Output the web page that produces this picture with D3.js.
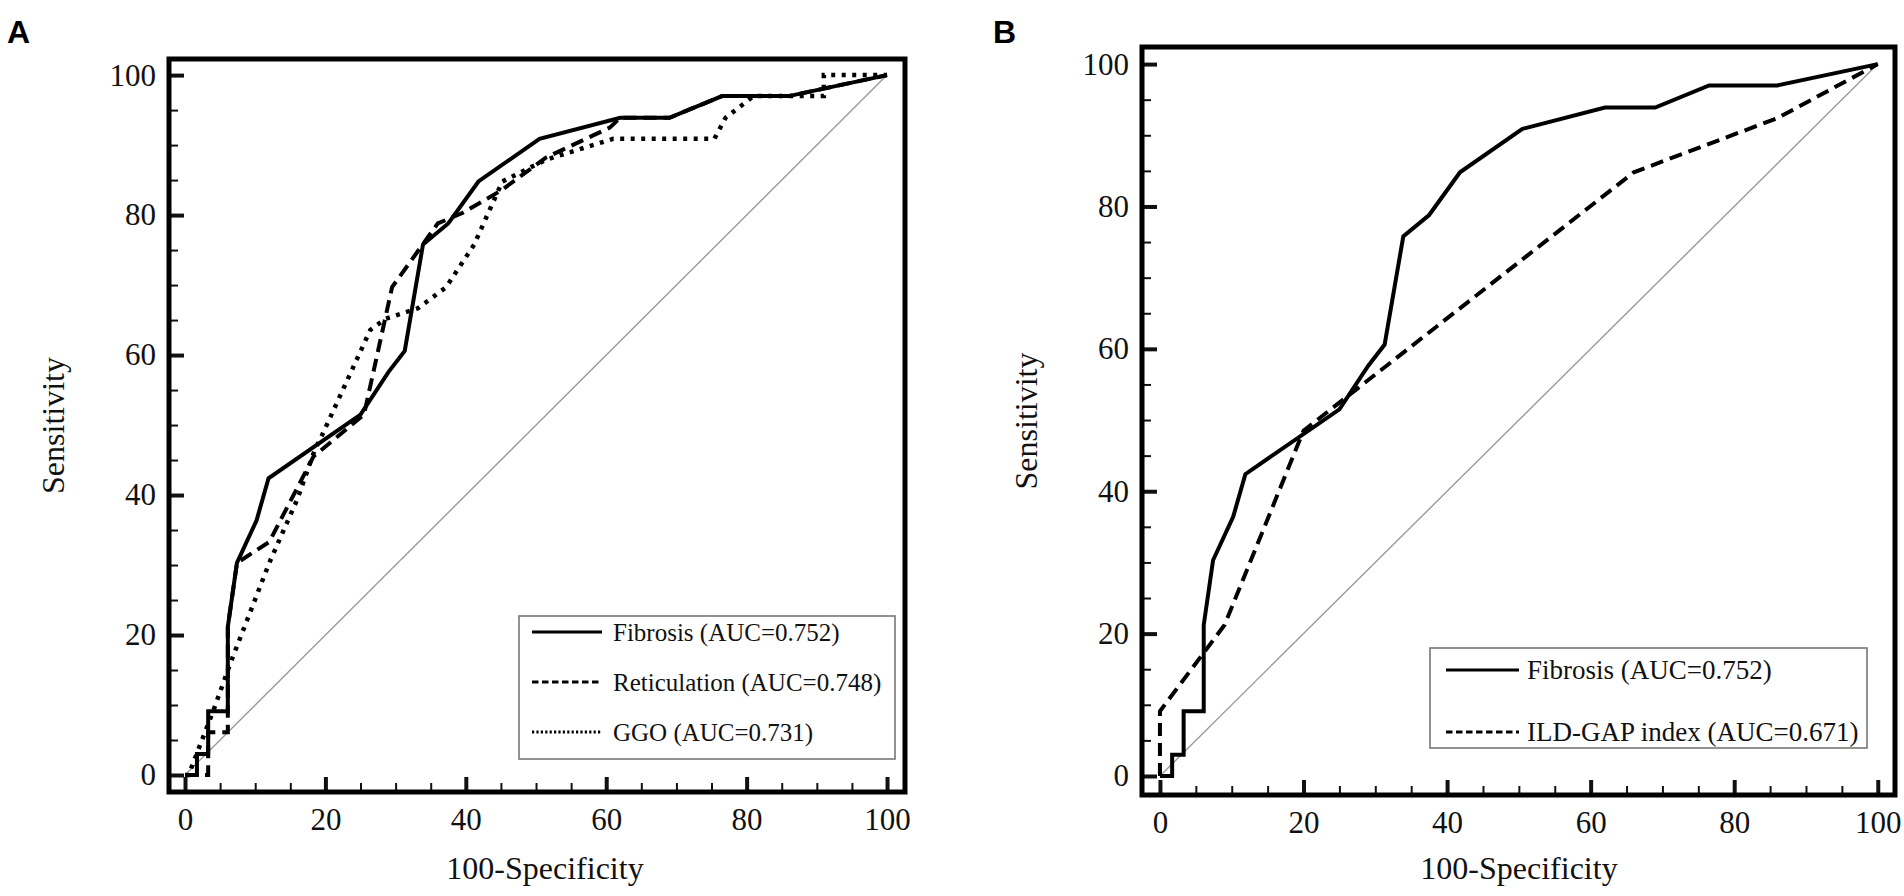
<!DOCTYPE html>
<html>
<head>
<meta charset="utf-8">
<script src="https://cdn.jsdelivr.net/npm/d3@7"></script>
<style>
  body { margin: 0; background: #fff; }
  text { font-family: "Liberation Serif", "Times New Roman", serif; fill: #111; }
  text.panel-letter { font-family: "Liberation Sans", Arial, sans-serif; font-weight: bold; fill: #000; }
</style>
</head>
<body>
<div id="wrapper"></div>
<script>
// ROC points, [100-specificity, sensitivity]
const fibrosis = [[0,0],[1.7,0],[1.7,3.0],[3.3,3.0],[3.3,9.1],[6.1,9.1],[6.1,21.2],[7.4,30.3],[10.2,36.4],[11.9,42.4],[25,51.5],[29,57.6],[31.3,60.6],[33.9,75.8],[37.5,78.8],[41.8,84.8],[50.5,90.9],[62,93.9],[69,93.9],[76.5,97],[86,97],[100,100]];
const reticulation = [[0,0],[3.3,0],[3.3,6.1],[6.1,6.1],[6.1,21.2],[7.4,30.3],[12,33.3],[18.3,45.5],[25.5,51.5],[29.5,69.7],[36,78.8],[39.5,80.3],[45,83.5],[51.4,88.2],[60.5,92.5],[62,93.9],[69,93.9],[76.5,97],[86,97],[100,100]];
const ggo = [[0,0],[0.5,0],[4,9.1],[6.4,15.8],[12,30.3],[16,39.4],[18.5,46.5],[19.5,48.5],[26.4,63.6],[28.6,65.2],[33.2,66.7],[37.2,69.7],[41.2,75.8],[45.2,84.8],[51.4,87.9],[61,90.9],[75.4,90.9],[77,93.9],[81,97],[91,97],[91,100],[100,100]];
const ildGap = [[0,0],[0,9.1],[9,21.2],[20,48.5],[66,84.8],[86,92.4],[100,100]];

const majorTicks = [0, 20, 40, 60, 80, 100];
const minorTicks = [5, 10, 15, 25, 30, 35, 45, 50, 55, 65, 70, 75, 85, 90, 95];

const labelsA = ["Fibrosis (AUC=0.752)", "Reticulation (AUC=0.748)", "GGO (AUC=0.731)"];
const labelsB = ["Fibrosis (AUC=0.752)", "ILD-GAP index (AUC=0.671)"];

const styles = {
  solid:  { dash: null,    legendDash: null },
  dashed: { dash: "13,7",  legendDash: "6.5,3.5" },
  dotted: { dash: "4,6.5", legendDash: "2.2,2.2" }
};

const svg = d3.select("#wrapper").append("svg")
  .attr("width", 1904)
  .attr("height", 896);

svg.append("rect").attr("width", 1904).attr("height", 896).attr("fill", "#fff");

function drawPanel(p) {
  const g = svg.append("g");

  const x = d3.scaleLinear().domain(p.xDomain).range([p.left, p.right]);
  const y = d3.scaleLinear().domain(p.yDomain).range([p.bottom, p.top]);

  // reference diagonal
  g.append("line")
    .attr("x1", x(0)).attr("y1", y(0))
    .attr("x2", x(100)).attr("y2", y(100))
    .attr("stroke", "#9a9a9a").attr("stroke-width", 1.4);

  // minor ticks
  const minorX = g.append("g").attr("transform", `translate(0,${p.bottom})`)
    .call(d3.axisBottom(x).tickValues(minorTicks).tickSize(-9).tickFormat(""));
  const minorY = g.append("g").attr("transform", `translate(${p.left},0)`)
    .call(d3.axisLeft(y).tickValues(minorTicks).tickSize(-9).tickFormat(""));
  [minorX, minorY].forEach(a => {
    a.select(".domain").remove();
    a.selectAll("line").attr("stroke", "#111").attr("stroke-width", 2);
  });

  // major ticks + labels
  const xAxis = g.append("g").attr("transform", `translate(0,${p.bottom})`)
    .call(d3.axisBottom(x).tickValues(majorTicks).tickSize(-15).tickPadding(16));
  const yAxis = g.append("g").attr("transform", `translate(${p.left},0)`)
    .call(d3.axisLeft(y).tickValues(majorTicks).tickSize(-15).tickPadding(13));
  [xAxis, yAxis].forEach(a => {
    a.select(".domain").remove();
    a.selectAll("line").attr("stroke", "#111").attr("stroke-width", 4);
    a.selectAll("text").attr("font-size", 31).attr("fill", "#111");
  });

  // curves
  const line = d3.line().x(d => x(d[0])).y(d => y(d[1]));
  p.series.forEach(s => {
    g.append("path")
      .datum(s.data)
      .attr("d", line)
      .attr("fill", "none")
      .attr("stroke", "#000")
      .attr("stroke-width", s.style === "dotted" ? 4.5 : 4)
      .attr("stroke-dasharray", styles[s.style].dash);
  });

  // frame
  g.append("rect")
    .attr("x", p.left).attr("y", p.top)
    .attr("width", p.right - p.left).attr("height", p.bottom - p.top)
    .attr("fill", "none").attr("stroke", "#000").attr("stroke-width", 5);

  // legend
  const lg = p.legend;
  g.append("rect")
    .attr("x", lg.x).attr("y", lg.y).attr("width", lg.w).attr("height", lg.h)
    .attr("fill", "#fff").attr("stroke", "#777").attr("stroke-width", 1.6);
  p.series.forEach((s, i) => {
    const ly = lg.firstRow + i * lg.rowGap;
    g.append("line")
      .attr("x1", lg.x + lg.lineX0).attr("x2", lg.x + lg.lineX1)
      .attr("y1", ly).attr("y2", ly)
      .attr("stroke", "#000").attr("stroke-width", 3)
      .attr("stroke-dasharray", styles[s.style].legendDash);
    g.append("text")
      .attr("x", lg.x + lg.textX).attr("y", ly + 9)
      .attr("font-size", lg.fontSize)
      .text(s.label);
  });

  // axis titles
  g.append("text")
    .attr("x", p.titleX).attr("y", 879)
    .attr("text-anchor", "middle").attr("font-size", 32)
    .text("100-Specificity");
  g.append("text")
    .attr("transform", `translate(${p.yTitleX},${(p.top + p.bottom) / 2}) rotate(-90)`)
    .attr("text-anchor", "middle").attr("font-size", 32)
    .text("Sensitivity");

  // panel letter
  g.append("text")
    .attr("class", "panel-letter")
    .attr("x", p.letterX).attr("y", 43)
    .attr("font-size", 32)
    .text(p.letter);
}

drawPanel({
  letter: "A", letterX: 7,
  left: 169, right: 905, top: 59, bottom: 792,
  xDomain: [-2.28, 102.56], yDomain: [-2.43, 102.3],
  titleX: 545, yTitleX: 64,
  series: [
    { data: fibrosis, style: "solid", label: labelsA[0] },
    { data: reticulation, style: "dashed", label: labelsA[1] },
    { data: ggo, style: "dotted", label: labelsA[2] }
  ],
  legend: { x: 519, y: 616, w: 376, h: 143, firstRow: 632, rowGap: 50,
            lineX0: 13, lineX1: 83, textX: 94, fontSize: 25 }
});

drawPanel({
  letter: "B", letterX: 993,
  left: 1142, right: 1895, top: 47, bottom: 795,
  xDomain: [-2.5, 102.4], yDomain: [-2.67, 102.4],
  titleX: 1519, yTitleX: 1037,
  series: [
    { data: fibrosis, style: "solid", label: labelsB[0] },
    { data: ildGap, style: "dashed", label: labelsB[1] }
  ],
  legend: { x: 1430, y: 648, w: 437, h: 100, firstRow: 670, rowGap: 62,
            lineX0: 16, lineX1: 89, textX: 97, fontSize: 27 }
});
</script>
</body>
</html>
